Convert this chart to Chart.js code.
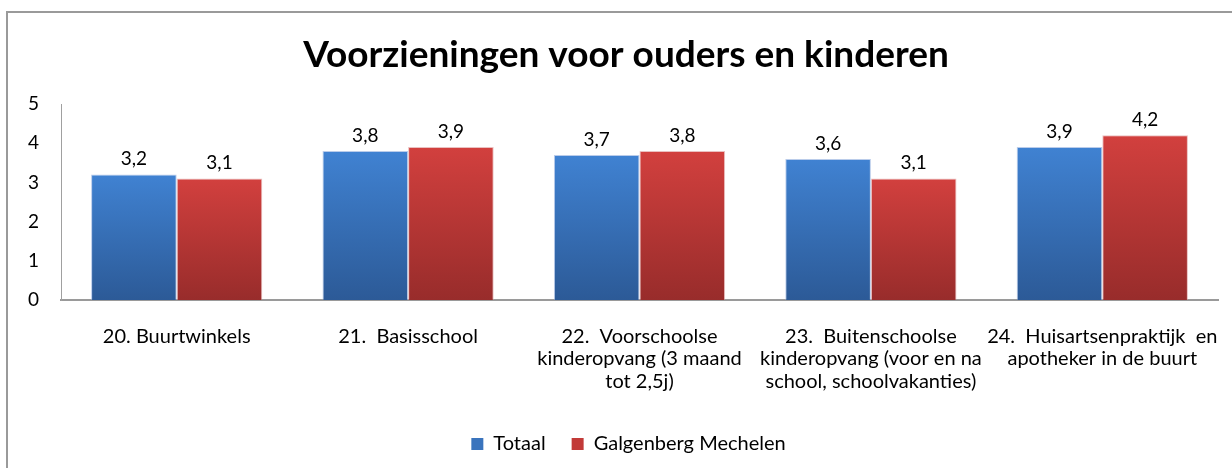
<!DOCTYPE html>
<html lang="nl">
<head>
  <meta charset="UTF-8">
  <title>Voorzieningen voor ouders en kinderen</title>
  <script src="https://cdn.jsdelivr.net/npm/chart.js"></script>
  <style>
    html, body { margin: 0; padding: 0; background: #fff; }
    #wrap { width: 1232px; height: 468px; position: relative; }
  </style>
</head>
<body>
  <div id="wrap"><canvas id="chart" width="1232" height="468"></canvas></div>

  <script>
    const title = 'Voorzieningen voor ouders en kinderen';
    const categories = [
      ['20. Buurtwinkels'],
      ['21.  Basisschool'],
      ['22.  Voorschoolse', 'kinderopvang (3 maand', 'tot 2,5j)'],
      ['23.  Buitenschoolse', 'kinderopvang (voor en na', 'school, schoolvakanties)'],
      ['24.  Huisartsenpraktijk  en', 'apotheker in de buurt']
    ];
    const totaal = [3.2, 3.8, 3.7, 3.6, 3.9];
    const galgenberg = [3.1, 3.9, 3.8, 3.1, 4.2];
    const yTicks = [0, 1, 2, 3, 4, 5];

    const fontFamily = 'Lato, "Open Sans", sans-serif';

    // gradient per bar, light at the top, dark at the base
    function barGradient(top, bottom) {
      return function (ctx) {
        const chart = ctx.chart;
        const y = chart.scales.y;
        if (!chart.chartArea || !y || ctx.raw == null) return top;
        const y0 = y.getPixelForValue(ctx.raw);
        const y1 = y.getPixelForValue(0);
        const g = chart.ctx.createLinearGradient(0, y0, 0, y1);
        g.addColorStop(0, top);
        g.addColorStop(1, bottom);
        return g;
      };
    }

    // frame lines (top + left) and the title, which sits a bit right of centre
    const framePlugin = {
      id: 'frame',
      afterLayout(chart) {
        // legend in the original is centred on the frame, not the plot
        chart.legend.left += 19;
        chart.legend.right += 19;
      },
      beforeDraw(chart) {
        const c = chart.ctx;
        c.save();
        c.strokeStyle = '#9a9a9a';
        c.lineWidth = 2;
        c.beginPath();
        c.moveTo(7, chart.height);
        c.lineTo(7, 12);
        c.lineTo(chart.width, 12);
        c.stroke();

        c.font = 'bold 37px ' + fontFamily;
        c.fillStyle = '#000';
        c.textAlign = 'center';
        c.textBaseline = 'middle';
        c.fillText(title, 626, 55);
        c.restore();
      }
    };

    // value labels above the bars
    const valueLabels = {
      id: 'valueLabels',
      afterDatasetsDraw(chart) {
        const c = chart.ctx;
        c.save();
        c.font = '19px ' + fontFamily;
        c.fillStyle = '#000';
        c.textAlign = 'center';
        c.textBaseline = 'bottom';
        chart.data.datasets.forEach((ds, i) => {
          chart.getDatasetMeta(i).data.forEach((bar, j) => {
            const txt = ds.data[j].toFixed(1).replace('.', ',');
            c.fillText(txt, bar.x, bar.y - 6);
          });
        });
        c.restore();
      }
    };

    new Chart(document.getElementById('chart'), {
      type: 'bar',
      data: {
        labels: categories,
        datasets: [
          {
            label: 'Totaal',
            data: totaal,
            backgroundColor: barGradient('#4082d2', '#2c5a97'),
            borderColor: 'rgba(140,170,220,0.6)',
            borderWidth: 1
          },
          {
            label: 'Galgenberg Mechelen',
            data: galgenberg,
            backgroundColor: barGradient('#d2403e', '#982c2b'),
            borderColor: 'rgba(220,150,150,0.6)',
            borderWidth: 1
          }
        ]
      },
      options: {
        responsive: false,
        animation: false,
        layout: { padding: { left: 1, right: 14, top: 104, bottom: 4 } },
        datasets: { bar: { categoryPercentage: 0.74, barPercentage: 1 } },
        scales: {
          x: {
            grid: { display: false, drawTicks: false },
            border: { color: '#9a9a9a', width: 2 },
            ticks: {
              color: '#000',
              padding: 25,
              maxRotation: 0,
              autoSkip: false,
              font: { family: fontFamily, size: 20, lineHeight: 1.13 }
            },
            afterFit(scale) {
              scale.height = 108;
              scale.paddingLeft = 0;
              scale.paddingRight = 0;
            }
          },
          y: {
            min: 0,
            max: 5,
            afterBuildTicks(scale) { scale.ticks = yTicks.map(v => ({ value: v })); },
            grid: { display: false, drawTicks: false },
            border: { color: '#a0a0a0', width: 1 },
            ticks: {
              color: '#000',
              padding: 22,
              font: { family: fontFamily, size: 19 }
            },
            afterFit(scale) {
              scale.width = 60;
              scale.paddingTop = 0;
              scale.paddingBottom = 0;
            }
          }
        },
        plugins: {
          title: { display: false },
          legend: {
            position: 'bottom',
            labels: {
              color: '#000',
              boxWidth: 12,
              boxHeight: 12,
              padding: 26,
              font: { family: fontFamily, size: 20 },
              generateLabels(chart) {
                const cols = ['#3a74bd', '#c23a38'];
                return chart.data.datasets.map((ds, i) => ({
                  text: ds.label,
                  fillStyle: cols[i],
                  strokeStyle: cols[i],
                  lineWidth: 0,
                  datasetIndex: i,
                  hidden: false
                }));
              }
            }
          },
          tooltip: { enabled: false }
        }
      },
      plugins: [framePlugin, valueLabels]
    });
  </script>
</body>
</html>
